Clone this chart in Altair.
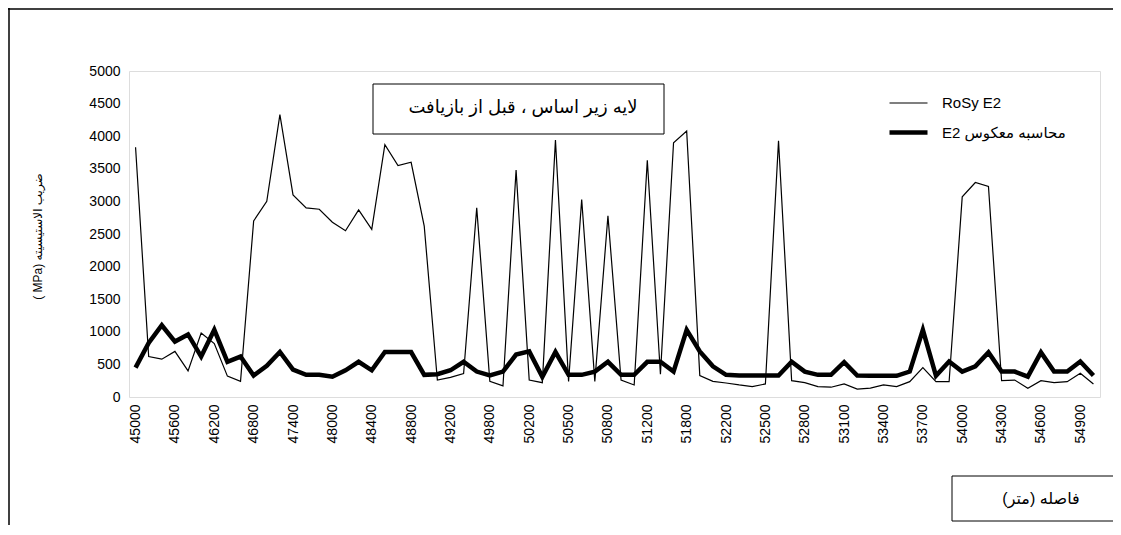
import altair as alt
import pandas as pd

# distance (m) categories; only every third one is labelled on the axis
distance = [
    45000, 45200, 45400, 45600, 45800, 46000, 46200, 46400, 46600,
    46800, 47000, 47200, 47400, 47600, 47800, 48000, 48100, 48300,
    48400, 48500, 48700, 48800, 48900, 49000, 49200, 49400, 49600,
    49800, 49900, 50100, 50200, 50300, 50400, 50500, 50600, 50700,
    50800, 50900, 51100, 51200, 51400, 51600, 51800, 51900, 52100,
    52200, 52300, 52400, 52500, 52600, 52700, 52800, 52900, 53000,
    53100, 53200, 53300, 53400, 53500, 53600, 53700, 53800, 53900,
    54000, 54100, 54200, 54300, 54400, 54500, 54600, 54700, 54800,
    54900, 55000,
]
axis_labels = [
    45000, 45600, 46200, 46800, 47400, 48000, 48400, 48800, 49200,
    49800, 50200, 50500, 50800, 51200, 51800, 52200, 52500, 52800,
    53100, 53400, 53700, 54000, 54300, 54600, 54900,
]
y_ticks = [0, 500, 1000, 1500, 2000, 2500, 3000, 3500, 4000, 4500, 5000]

rosy_e2 = [
    3830, 620, 580, 700, 400, 980, 820, 320, 240,
    2700, 3000, 4330, 3100, 2900, 2880, 2680, 2550, 2870,
    2570, 3870, 3550, 3600, 2620, 260, 300, 360, 2900,
    240, 170, 3480, 260, 220, 3940, 240, 3030, 240,
    2780, 260, 185, 3630, 350, 3900, 4080, 330, 240,
    215, 185, 160, 200, 3930, 250, 220, 160, 150,
    200, 120, 135, 185, 160, 235, 450, 235, 235,
    3070, 3290, 3230, 250, 260, 135, 250, 220, 235,
    365, 200,
]
back_e2 = [
    450, 830, 1100, 850, 960, 620, 1030, 540, 620,
    330, 480, 690, 420, 340, 340, 310, 410, 540,
    410, 690, 690, 690, 340, 350, 410, 540, 390,
    330, 390, 650, 700, 310, 690, 340, 340, 390,
    540, 340, 340, 540, 540, 390, 1030, 700, 470,
    340, 330, 330, 330, 330, 540, 390, 340, 340,
    535, 330, 325, 325, 325, 390, 1030, 325, 545,
    390, 470, 684, 390, 390, 313, 684, 390, 390,
    545, 330,
]
series_names = ["RoSy E2", "E2 محاسبه معکوس"]

dist_str = [str(d) for d in distance]
df = pd.DataFrame({
    "distance": dist_str * 2,
    "value": rosy_e2 + back_e2,
    "series": [series_names[0]] * len(rosy_e2) + [series_names[1]] * len(back_e2),
})

W, H = 971, 326
FONT = "Liberation Sans, Arial, DejaVu Sans"

lines = alt.Chart(df).mark_line(color="black", strokeJoin="miter").encode(
    x=alt.X("distance:O", sort=dist_str,
            scale=alt.Scale(type="point", padding=0.5),
            axis=alt.Axis(values=[str(v) for v in axis_labels], labelAngle=-90,
                          title=None, ticks=False, domain=False, grid=False,
                          labelFontSize=14, labelFont=FONT, labelColor="black",
                          labelPadding=7)),
    y=alt.Y("value:Q", scale=alt.Scale(domain=[0, 5000], nice=False, zero=True),
            axis=alt.Axis(values=y_ticks, format="d", grid=False, ticks=False,
                          domain=False, labelFontSize=14, labelFont=FONT,
                          labelColor="black", labelPadding=9,
                          title="( MPa) ضریب الاستیسیته",
                          titleFontSize=12, titleFontWeight="normal",
                          titleFont=FONT, titleColor="black",
                          titleX=-92, titleY=165, titleAngle=270,
                          titleAlign="center", titleBaseline="middle")),
    strokeWidth=alt.StrokeWidth(
        "series:N",
        scale=alt.Scale(domain=series_names, range=[1.2, 4.5]),
        legend=alt.Legend(orient="none", legendX=758, legendY=12, title=None,
                          symbolType="stroke", symbolSize=1444,
                          symbolStrokeColor="black", labelFontSize=15,
                          labelFont=FONT, labelColor="black", labelOffset=12,
                          rowPadding=-10, labelLimit=300),
    ),
    detail="series:N",
)

one = pd.DataFrame({"k": [0]})

note_box = alt.Chart(one).mark_rect(fill="white", stroke="black", strokeWidth=1).encode(
    x=alt.value(244), x2=alt.value(535), y=alt.value(13), y2=alt.value(63))
note_text = alt.Chart(one).mark_text(
    text="لایه زیر اساس ، قبل از بازیافت", font=FONT, fontSize=18, color="black",
    align="center", baseline="middle").encode(x=alt.value(394), y=alt.value(37))

xt_box = alt.Chart(one).mark_rect(fill="white", stroke="black", strokeWidth=1).encode(
    x=alt.value(823), x2=alt.value(1000), y=alt.value(405), y2=alt.value(450))
xt_text = alt.Chart(one).mark_text(
    text="فاصله (متر)\u200f", font=FONT, fontSize=16, color="black",
    align="center", baseline="middle").encode(x=alt.value(912), y=alt.value(428))

frame_left = alt.Chart(one).mark_rule(color="black", strokeWidth=1.5).encode(
    x=alt.value(-120), y=alt.value(-63), y2=alt.value(470))
frame_top = alt.Chart(one).mark_rule(color="black", strokeWidth=1.5).encode(
    x=alt.value(-121), x2=alt.value(1000), y=alt.value(-62))

chart = alt.layer(
    lines, note_box, note_text, xt_box, xt_text, frame_left, frame_top
).properties(
    width=W, height=H,
    autosize=alt.AutoSizeParams(type="none"),
    padding={"left": 121, "top": 63, "right": 13, "bottom": 128},
).configure_view(
    stroke="#555", strokeDash=[2, 2], strokeWidth=1
).configure(background="white")

chart.save("out.html", embed_options={"renderer": "svg", "actions": False})
